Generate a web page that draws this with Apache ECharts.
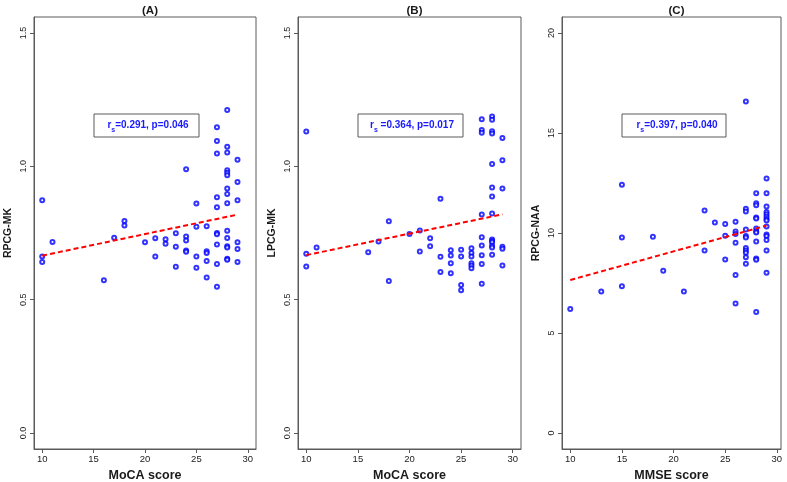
<!DOCTYPE html>
<html>
<head>
<meta charset="utf-8">
<script src="https://cdn.jsdelivr.net/npm/echarts@6/dist/echarts.min.js"></script>
<style>
  html, body { margin: 0; padding: 0; background: #fff; }
  #chart { width: 787px; height: 482px; }
</style>
</head>
<body>
<div id="chart"></div>
<script>
// panel (A): MoCA score vs RPCG-MK
var mocaA = [10, 10, 10, 11, 16, 17, 18, 18, 20, 21, 21, 22, 22, 23, 23, 23,
  24, 24, 24, 24, 24, 25, 25, 25, 25, 26, 26, 26, 26, 26,
  27, 27, 27, 27, 27, 27, 27, 27, 27, 27,
  28, 28, 28, 28, 28, 28, 28, 28, 28, 28, 28, 28, 28, 28, 28,
  29, 29, 29, 29, 29, 29];
var rpcgMK = [0.873, 0.662, 0.641, 0.716, 0.573, 0.732, 0.795, 0.778, 0.715, 0.730, 0.662, 0.727, 0.710, 0.749, 0.698, 0.623,
  0.989, 0.737, 0.722, 0.684, 0.680, 0.861, 0.773, 0.662, 0.620, 0.775, 0.682, 0.675, 0.645, 0.583,
  1.147, 1.095, 1.048, 0.884, 0.847, 0.750, 0.745, 0.707, 0.634, 0.548,
  1.211, 1.073, 1.052, 0.985, 0.976, 0.967, 0.917, 0.896, 0.862, 0.758, 0.731, 0.700, 0.696, 0.653, 0.650,
  1.025, 0.941, 0.873, 0.715, 0.690, 0.641];

// panel (B): MoCA score vs LPCG-MK
var mocaB = [10, 10, 10, 11, 16, 17, 18, 18, 20, 21, 21, 22, 22, 23, 23, 23,
  24, 24, 24, 24, 25, 25, 25, 25, 26, 26, 26, 26, 26, 26,
  27, 27, 27, 27, 27, 27, 27, 27, 27,
  28, 28, 28, 28, 28, 28, 28, 28, 28, 28, 28, 28, 28, 28,
  29, 29, 29, 29, 29, 29];
var lpcgMK = [1.131, 0.672, 0.624, 0.696, 0.678, 0.718, 0.794, 0.570, 0.746, 0.759, 0.681, 0.730, 0.700, 0.878, 0.661, 0.604,
  0.685, 0.666, 0.637, 0.599, 0.687, 0.662, 0.555, 0.535, 0.693, 0.675, 0.662, 0.637, 0.628, 0.618,
  1.177, 1.136, 1.126, 0.819, 0.734, 0.703, 0.667, 0.634, 0.560,
  1.187, 1.175, 1.132, 1.123, 1.009, 0.921, 0.887, 0.823, 0.726, 0.720, 0.715, 0.702, 0.696, 0.668,
  1.106, 1.023, 0.917, 0.698, 0.691, 0.628];

// panel (C): MMSE score vs RPCG-NAA
var mmseC = [10, 13, 15, 15, 15, 18, 19, 21, 23, 23, 24, 25, 25, 25,
  26, 26, 26, 26, 26, 26,
  27, 27, 27, 27, 27, 27, 27, 27, 27, 27, 27,
  28, 28, 28, 28, 28, 28, 28, 28, 28, 28, 28, 28,
  29, 29, 29, 29, 29, 29, 29, 29, 29, 29, 29, 29, 29, 29];
var rpcgNAA = [6.20, 7.07, 12.41, 9.78, 7.34, 9.81, 8.11, 7.07, 11.12, 9.13, 10.52, 10.45, 9.86, 8.68,
  10.56, 10.07, 9.95, 9.51, 7.90, 6.48,
  16.57, 11.21, 11.07, 10.17, 9.85, 9.78, 9.25, 9.13, 9.01, 8.79, 8.46,
  11.99, 11.49, 11.39, 10.78, 10.73, 10.22, 10.08, 10.03, 9.58, 8.72, 8.66, 6.05,
  12.73, 11.99, 11.33, 11.05, 10.94, 10.81, 10.70, 10.62, 10.32, 9.92, 9.85, 9.65, 9.12, 8.01];

// fitted lines (end points)
var fitX = [10, 29];
var fitA = [0.665, 0.819];
var fitB = [0.667, 0.820];
var fitC = [7.65, 10.37];

var xTicks = [10, 15, 20, 25, 30];
var mkTicks = [0, 0.5, 1, 1.5];
var naaTicks = [0, 5, 10, 15, 20];

var panelTitles = ['(A)', '(B)', '(C)'];
var xNames = ['MoCA score', 'MoCA score', 'MMSE score'];
var yNames = ['RPCG-MK', 'LPCG-MK', 'RPCG-NAA'];
var statText = ['=0.291, p=0.046', ' =0.364, p=0.017', '=0.397, p=0.040'];

var frame = '#5a5a5a';
var ink = '#1a1a1a';

// grids placed like the R panels
var grids = [
  { left: 34, top: 17, width: 222, height: 432 },
  { left: 298, top: 17, width: 223, height: 432 },
  { left: 562, top: 17, width: 219, height: 432 }
];
var xMax = [30.8, 30.8, 30.4];

function pairs(xs, ys) {
  return xs.map(function (x, i) { return [x, ys[i]]; });
}

function xAxisFor(i) {
  return {
    gridIndex: i, type: 'value', min: 9.2, max: xMax[i],
    name: xNames[i], nameLocation: 'middle', nameGap: 17,
    nameTextStyle: { fontWeight: 'bold', fontSize: 12.5, color: ink, fontFamily: 'Liberation Sans' },
    axisLine: { show: true, onZero: false, lineStyle: { color: frame, width: 1 } },
    splitLine: { show: false },
    axisTick: { show: true, inside: false, length: 4, customValues: xTicks, lineStyle: { color: frame, width: 1 } },
    axisLabel: { customValues: xTicks, fontSize: 9.5, color: ink, margin: 5, fontFamily: 'Liberation Sans' }
  };
}

function yAxisFor(i, ticks, lo, hi, fmt) {
  return {
    gridIndex: i, type: 'value', min: lo, max: hi,
    name: yNames[i], nameLocation: 'middle', nameGap: 20, nameRotate: 90,
    nameTextStyle: { fontWeight: 'bold', fontSize: 10.5, color: ink, fontFamily: 'Liberation Sans' },
    axisLine: { show: true, onZero: false, lineStyle: { color: frame, width: 1 } },
    splitLine: { show: false },
    axisTick: { show: true, inside: false, length: 4, customValues: ticks, lineStyle: { color: frame, width: 1 } },
    axisLabel: { customValues: ticks, rotate: 90, fontSize: 9, color: ink, margin: 6, fontFamily: 'Liberation Sans', formatter: fmt }
  };
}

function scatterSeries(i, xs, ys) {
  return {
    type: 'scatter', xAxisIndex: i, yAxisIndex: i,
    data: pairs(xs, ys), symbol: 'emptyCircle', symbolSize: 4,
    itemStyle: { color: '#0000ff', borderColor: '#0000ff', borderWidth: 1.1 },
    emphasis: { disabled: true }
  };
}

function fitSeries(i, ys) {
  return {
    type: 'line', xAxisIndex: i, yAxisIndex: i,
    data: pairs(fitX, ys), symbol: 'none', z: 3,
    lineStyle: { color: '#ff0000', width: 2, type: [5, 3] }
  };
}

// annotation boxes (pixel placement)
var boxes = [
  { x: 94, y: 114, w: 105, h: 23, cx: 148 },
  { x: 358, y: 114, w: 105, h: 23, cx: 412 },
  { x: 622, y: 114, w: 104, h: 23, cx: 677 }
];
var graphics = [];
boxes.forEach(function (b, i) {
  graphics.push({
    type: 'rect', shape: { x: b.x, y: b.y, width: b.w, height: b.h },
    style: { fill: '#fff', stroke: frame, lineWidth: 1 }, z: 10
  });
  graphics.push({
    type: 'text', z: 11,
    style: {
      x: b.cx, y: b.y + b.h / 2, align: 'center', verticalAlign: 'middle',
      text: '{m|r}{s|s}{m|' + statText[i] + '}',
      rich: {
        m: { fontSize: 10, fontWeight: 'bold', fill: '#1a1aff', fontFamily: 'Liberation Sans', lineHeight: 13, verticalAlign: 'middle' },
        s: { fontSize: 7, fontWeight: 'bold', fill: '#1a1aff', fontFamily: 'Liberation Sans', lineHeight: 13, verticalAlign: 'bottom', padding: [0, 0, -2, 0] }
      }
    }
  });
});

var chart = echarts.init(document.getElementById('chart'), null, { renderer: 'canvas' });
chart.setOption({
  animation: false,
  backgroundColor: '#fff',
  title: grids.map(function (g, i) {
    return {
      text: panelTitles[i], left: g.left + g.width / 2, top: 0, textAlign: 'center',
      textStyle: { fontSize: 11.5, fontWeight: 'bold', color: ink, fontFamily: 'Liberation Sans' }
    };
  }),
  grid: grids.map(function (g) {
    return {
      left: g.left, top: g.top, width: g.width, height: g.height,
      outerBoundsMode: 'none', containLabel: false,
      show: true, borderColor: frame, borderWidth: 1, backgroundColor: 'transparent'
    };
  }),
  xAxis: [xAxisFor(0), xAxisFor(1), xAxisFor(2)],
  yAxis: [
    yAxisFor(0, mkTicks, -0.06, 1.56, function (v) { return v.toFixed(1); }),
    yAxisFor(1, mkTicks, -0.06, 1.56, function (v) { return v.toFixed(1); }),
    yAxisFor(2, naaTicks, -0.8, 20.8, function (v) { return String(v); })
  ],
  series: [
    scatterSeries(0, mocaA, rpcgMK), fitSeries(0, fitA),
    scatterSeries(1, mocaB, lpcgMK), fitSeries(1, fitB),
    scatterSeries(2, mmseC, rpcgNAA), fitSeries(2, fitC)
  ],
  graphic: graphics
});
</script>
</body>
</html>
